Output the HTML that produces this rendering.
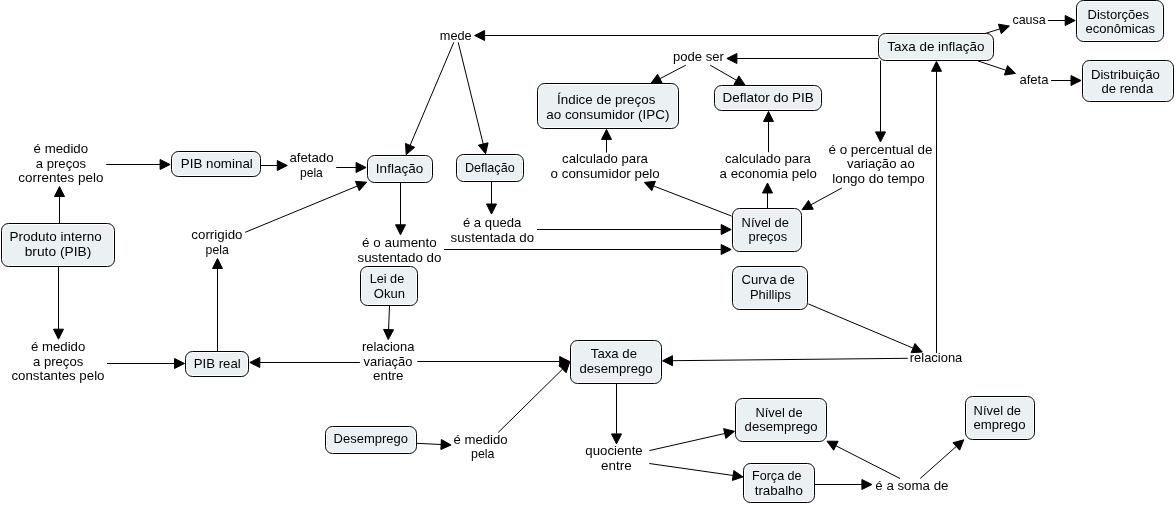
<!DOCTYPE html><html><head><meta charset="utf-8"><style>html,body{margin:0;padding:0;background:#fff;overflow:hidden;width:1176px;height:505px;}svg{display:block}text{font-family:"Liberation Sans",sans-serif;font-size:12px;fill:#000}</style></head><body>
<svg width="1176" height="505" viewBox="0 0 1176 505">
<rect width="1176" height="505" fill="#fff"/>
<path d="M59.5 223.5L59.5 196.5M106.2 164.5L160.1 164.5M260.5 165.5L277.3 165.5M336.2 167.5L356.1 167.5M245.2 232.3L357.36 186.01M217.5 351.5L217.5 268.5M58.5 266.5L58.5 329.2M107 363.5L174.5 363.5M359.9 362.5L259.8 362.5M417.3 361.5L559.7 361.5M389.5 305.5L388.58 329.61M453.8 42.3L410.1 145.39M458.2 42.3L483.21 143.99M878.5 35.5L484.6 35.5M400.5 182.5L400.5 224.8M491.5 181.5L491.5 204M537 229.5L721.2 229.5M444 249.5L721.2 249.5M878.5 58.5L736.9 58.5M685.8 65.2L659.87 78.69M710.2 65.2L736.42 80.23M985.4 33.4L999.84 28.95M978.1 61L1006.01 70.25M1048.1 20.5L1065.2 20.5M1051.1 80.5L1071 80.5M936.5 353L936.5 71.3M880.5 60.5L880.5 131.9M841.8 188L810.88 204.82M731.7 216.1L653.63 186M606.5 152.6L606.5 139.4M767.5 208.5L767.5 193M768.5 152.2L768.5 121.5M808.3 303.9L913.09 348.11M907.8 358.3L672.5 360.7M416.5 443.3L441.11 444.51M498.2 432.5L562.57 369.12M616.5 383.5L616.5 433.9M649.3 450.6L724.75 433.51M649.3 463.5L733.1 475.48M814.5 484.5L861.9 484.5M900 478.5L835.9 445.75M920.2 478.5L956.32 446.44" stroke="#000" stroke-width="1" fill="none"/>
<path d="M59.5 186.5L64.5 196.5L54.5 196.5ZM170.1 164.5L160.1 169.5L160.1 159.5ZM287.3 165.5L277.3 170.5L277.3 160.5ZM366.1 167.5L356.1 172.5L356.1 162.5ZM366.6 182.2L359.26 190.64L355.45 181.39ZM217.5 258.5L222.5 268.5L212.5 268.5ZM58.5 339.2L53.5 329.2L63.5 329.2ZM184.5 363.5L174.5 368.5L174.5 358.5ZM249.8 362.5L259.8 357.5L259.8 367.5ZM569.7 361.5L559.7 366.5L559.7 356.5ZM388.2 339.6L383.58 329.42L393.58 329.8ZM406.2 154.6L405.5 143.44L414.71 147.34ZM485.6 153.7L478.36 145.18L488.07 142.8ZM474.6 35.5L484.6 30.5L484.6 40.5ZM400.5 234.8L395.5 224.8L405.5 224.8ZM491.5 214L486.5 204L496.5 204ZM731.2 229.5L721.2 234.5L721.2 224.5ZM731.2 249.5L721.2 254.5L721.2 244.5ZM726.9 58.5L736.9 53.5L736.9 63.5ZM651 83.3L657.56 74.25L662.18 83.12ZM745.1 85.2L733.94 84.57L738.91 75.89ZM1009.4 26L1001.32 33.72L998.37 24.17ZM1015.5 73.4L1004.43 75L1007.58 65.51ZM1075.2 20.5L1065.2 25.5L1065.2 15.5ZM1081 80.5L1071 85.5L1071 75.5ZM936.5 61.3L941.5 71.3L931.5 71.3ZM880.5 141.9L875.5 131.9L885.5 131.9ZM802.1 209.6L808.49 200.43L813.27 209.21ZM644.3 182.4L655.43 181.33L651.83 190.66ZM606.5 129.4L611.5 139.4L601.5 139.4ZM767.5 183L772.5 193L762.5 193ZM768.5 111.5L773.5 121.5L763.5 121.5ZM922.3 352L911.14 352.72L915.03 343.51ZM662.5 360.8L672.45 355.7L672.55 365.7ZM451.1 445L440.87 449.5L441.36 439.52ZM569.7 362.1L566.08 372.68L559.07 365.55ZM616.5 443.9L611.5 433.9L621.5 433.9ZM734.5 431.3L725.85 438.39L723.64 428.63ZM743 476.9L732.39 480.43L733.81 470.53ZM871.9 484.5L861.9 489.5L861.9 479.5ZM827 441.2L838.18 441.3L833.63 450.2ZM963.8 439.8L959.64 450.18L953 442.7Z" fill="#000" stroke="#000" stroke-width="1" stroke-linejoin="round"/>
<rect x="1.5" y="223.5" width="113" height="43" rx="7" fill="#fff" stroke="#000" stroke-width="1"/>
<rect x="3" y="225" width="110" height="40" rx="5.5" fill="#ebf1f3"/>
<rect x="171.5" y="151.5" width="89" height="25" rx="7" fill="#fff" stroke="#000" stroke-width="1"/>
<rect x="173" y="153" width="86" height="22" rx="5.5" fill="#ebf1f3"/>
<rect x="185.5" y="351.5" width="63" height="25" rx="7" fill="#fff" stroke="#000" stroke-width="1"/>
<rect x="187" y="353" width="60" height="22" rx="5.5" fill="#ebf1f3"/>
<rect x="367.5" y="155.5" width="65" height="27" rx="7" fill="#fff" stroke="#000" stroke-width="1"/>
<rect x="369" y="157" width="62" height="24" rx="5.5" fill="#ebf1f3"/>
<rect x="456.5" y="154.5" width="67" height="27" rx="7" fill="#fff" stroke="#000" stroke-width="1"/>
<rect x="458" y="156" width="64" height="24" rx="5.5" fill="#ebf1f3"/>
<rect x="360.5" y="266.5" width="57" height="39" rx="7" fill="#fff" stroke="#000" stroke-width="1"/>
<rect x="362" y="268" width="54" height="36" rx="5.5" fill="#ebf1f3"/>
<rect x="537.5" y="83.5" width="141" height="45" rx="7" fill="#fff" stroke="#000" stroke-width="1"/>
<rect x="539" y="85" width="138" height="42" rx="5.5" fill="#ebf1f3"/>
<rect x="714.5" y="85.5" width="107" height="25" rx="7" fill="#fff" stroke="#000" stroke-width="1"/>
<rect x="716" y="87" width="104" height="22" rx="5.5" fill="#ebf1f3"/>
<rect x="878.5" y="33.5" width="115" height="27" rx="7" fill="#fff" stroke="#000" stroke-width="1"/>
<rect x="880" y="35" width="112" height="24" rx="5.5" fill="#ebf1f3"/>
<rect x="1076.5" y="0.5" width="87" height="41" rx="7" fill="#fff" stroke="#000" stroke-width="1"/>
<rect x="1078" y="2" width="84" height="38" rx="5.5" fill="#ebf1f3"/>
<rect x="1082.5" y="60.5" width="91" height="41" rx="7" fill="#fff" stroke="#000" stroke-width="1"/>
<rect x="1084" y="62" width="88" height="38" rx="5.5" fill="#ebf1f3"/>
<rect x="732.5" y="208.5" width="69" height="43" rx="7" fill="#fff" stroke="#000" stroke-width="1"/>
<rect x="734" y="210" width="66" height="40" rx="5.5" fill="#ebf1f3"/>
<rect x="732.5" y="266.5" width="75" height="43" rx="7" fill="#fff" stroke="#000" stroke-width="1"/>
<rect x="734" y="268" width="72" height="40" rx="5.5" fill="#ebf1f3"/>
<rect x="570.5" y="340.5" width="91" height="43" rx="7" fill="#fff" stroke="#000" stroke-width="1"/>
<rect x="572" y="342" width="88" height="40" rx="5.5" fill="#ebf1f3"/>
<rect x="325.5" y="426.5" width="91" height="27" rx="7" fill="#fff" stroke="#000" stroke-width="1"/>
<rect x="327" y="428" width="88" height="24" rx="5.5" fill="#ebf1f3"/>
<rect x="735.5" y="398.5" width="91" height="43" rx="7" fill="#fff" stroke="#000" stroke-width="1"/>
<rect x="737" y="400" width="88" height="40" rx="5.5" fill="#ebf1f3"/>
<rect x="743.5" y="463.5" width="71" height="39" rx="7" fill="#fff" stroke="#000" stroke-width="1"/>
<rect x="745" y="465" width="68" height="36" rx="5.5" fill="#ebf1f3"/>
<rect x="965.5" y="396.5" width="69" height="43" rx="7" fill="#fff" stroke="#000" stroke-width="1"/>
<rect x="967" y="398" width="66" height="40" rx="5.5" fill="#ebf1f3"/>
<g style="opacity:0.999">
<text transform="matrix(1.1253 0 0 1 9.6 241)">Produto interno</text>
<text transform="matrix(1.1478 0 0 1 24.7 256)">bruto (PIB)</text>
<text transform="matrix(1.1135 0 0 1 180.8 168)">PIB nominal</text>
<text transform="matrix(1.1019 0 0 1 193.7 368)">PIB real</text>
<text transform="matrix(1.1268 0 0 1 375.87 173)">Inflação</text>
<text transform="matrix(1.0527 0 0 1 464.9 172)">Deflação</text>
<text transform="matrix(1.0569 0 0 1 369.7 283)">Lei de</text>
<text transform="matrix(1.0854 0 0 1 373.8 298)">Okun</text>
<text transform="matrix(1.1175 0 0 1 557 104)">Índice de preços</text>
<text transform="matrix(1.1214 0 0 1 546.2 119)">ao consumidor (IPC)</text>
<text transform="matrix(1.1232 0 0 1 722.5 102)">Deflator do PIB</text>
<text transform="matrix(1.1212 0 0 1 887.3 51)">Taxa de inflação</text>
<text transform="matrix(1.0867 0 0 1 1087.5 19)">Distorções</text>
<text transform="matrix(1.0885 0 0 1 1085.4 33)">econômicas</text>
<text transform="matrix(1.0997 0 0 1 1090.9 79)">Distribuição</text>
<text transform="matrix(1.0923 0 0 1 1101.5 93)">de renda</text>
<text transform="matrix(1.0733 0 0 1 741.6 227)">Nível de</text>
<text transform="matrix(1.0745 0 0 1 748.5 241)">preços</text>
<text transform="matrix(1.0955 0 0 1 741.4 284)">Curva de</text>
<text transform="matrix(1.0811 0 0 1 749.9 299)">Phillips</text>
<text transform="matrix(1.1002 0 0 1 590.8 358)">Taxa de</text>
<text transform="matrix(1.0979 0 0 1 579.4 373)">desemprego</text>
<text transform="matrix(1.0836 0 0 1 333.6 443)">Desemprego</text>
<text transform="matrix(1.0711 0 0 1 755.5 417)">Nível de</text>
<text transform="matrix(1.0949 0 0 1 744.6 431)">desemprego</text>
<text transform="matrix(1.0486 0 0 1 752 480)">Força de</text>
<text transform="matrix(1.1146 0 0 1 754.7 495)">trabalho</text>
<text transform="matrix(1.0778 0 0 1 973.6 415)">Nível de</text>
<text transform="matrix(1.1009 0 0 1 973.4 429)">emprego</text>
<text transform="matrix(1.1048 0 0 1 33.6 153)">é medido</text>
<text transform="matrix(1.0929 0 0 1 35.8 168)">a preços</text>
<text transform="matrix(1.1209 0 0 1 18.3 182)">correntes pelo</text>
<text transform="matrix(1.1008 0 0 1 31 351)">é medido</text>
<text transform="matrix(1.0929 0 0 1 33 366)">a preços</text>
<text transform="matrix(1.1080 0 0 1 11.4 380)">constantes pelo</text>
<text transform="matrix(1.1050 0 0 1 289.4 162)">afetado</text>
<text transform="matrix(1.0081 0 0 1 300 177)">pela</text>
<text transform="matrix(1.1134 0 0 1 191.3 239)">corrigido</text>
<text transform="matrix(1.0211 0 0 1 205.6 254)">pela</text>
<text transform="matrix(1.0645 0 0 1 439.8 40)">mede</text>
<text transform="matrix(1.1202 0 0 1 362.1 247)">é o aumento</text>
<text transform="matrix(1.1133 0 0 1 357.5 262)">sustentado do</text>
<text transform="matrix(1.0966 0 0 1 462.9 227)">é a queda</text>
<text transform="matrix(1.1094 0 0 1 450.5 242)">sustentada do</text>
<text transform="matrix(1.0899 0 0 1 673 61)">pode ser</text>
<text transform="matrix(1.0418 0 0 1 1012.4 24)">causa</text>
<text transform="matrix(1.0920 0 0 1 1019.4 84)">afeta</text>
<text transform="matrix(1.0998 0 0 1 562.1 163)">calculado para</text>
<text transform="matrix(1.1140 0 0 1 550.6 178)">o consumidor pelo</text>
<text transform="matrix(1.1011 0 0 1 725 163)">calculado para</text>
<text transform="matrix(1.1065 0 0 1 719.6 178)">a economia pelo</text>
<text transform="matrix(1.1218 0 0 1 828.4 154)">é o percentual de</text>
<text transform="matrix(1.0936 0 0 1 846.9 168)">variação ao</text>
<text transform="matrix(1.1197 0 0 1 832.2 183)">longo do tempo</text>
<text transform="matrix(1.0791 0 0 1 361.9 351)">relaciona</text>
<text transform="matrix(1.0770 0 0 1 363.6 366)">variação</text>
<text transform="matrix(1.1164 0 0 1 373 380)">entre</text>
<text transform="matrix(1.0791 0 0 1 909.8 362)">relaciona</text>
<text transform="matrix(1.0988 0 0 1 453.5 444)">é medido</text>
<text transform="matrix(1.0342 0 0 1 471 458)">pela</text>
<text transform="matrix(1.1037 0 0 1 585.3 455)">quociente</text>
<text transform="matrix(1.1200 0 0 1 601 470)">entre</text>
<text transform="matrix(1.1090 0 0 1 875.3 490)">é a soma de</text>
</g>
</svg></body></html>
